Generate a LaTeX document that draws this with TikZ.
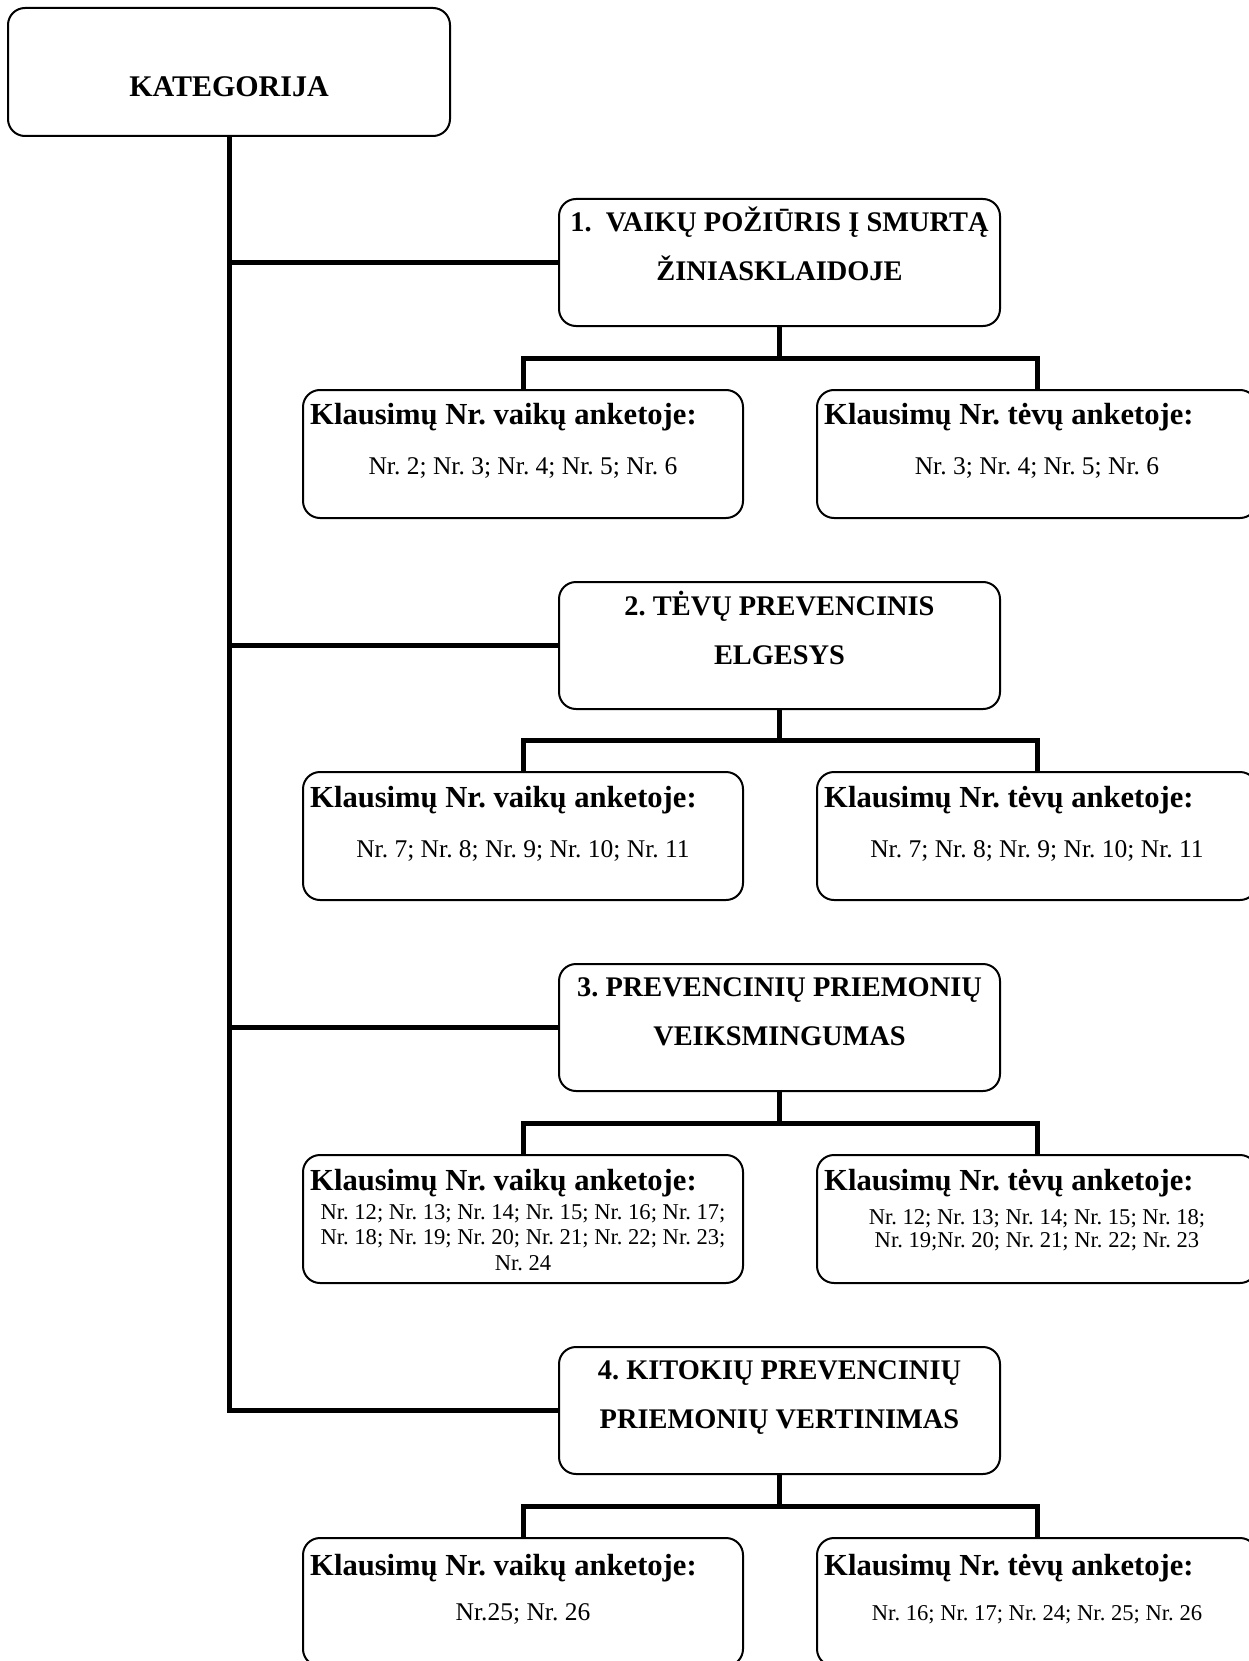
\documentclass[tikz,border=0pt]{standalone}
\usepackage{fontspec}
\setmainfont{Liberation Serif}
\usetikzlibrary{calc}
\frenchspacing
\tikzset{
  catbox/.style={draw, line width=2pt, rounded corners=17pt, minimum width=441pt, minimum height=127pt, inner sep=0pt},
  kidbox/.style={draw, line width=2pt, rounded corners=17pt, minimum width=440pt, minimum height=128pt, inner sep=0pt},
  conn/.style={line width=5pt},
  cattxt/.style={font=\bfseries\fontsize{28.4}{34}\selectfont, anchor=base, inner sep=0pt},
  hdrtxt/.style={font=\bfseries\fontsize{30.6}{36}\selectfont, anchor=base west, inner sep=0pt},
  regtxt/.style={font=\fontsize{25.5}{30}\selectfont, anchor=base, inner sep=0pt},
  smltxt/.style={font=\fontsize{22.6}{26}\selectfont, anchor=base, inner sep=0pt}
}
\begin{document}
\begin{tikzpicture}[x=1pt,y=-1pt]
\useasboundingbox (0,0) rectangle (1249,1661);
\fill[white] (0,0) rectangle (1249,1661);
\clip (0,0) rectangle (1249,1661);

% top box
\node[catbox, minimum width=442pt, minimum height=128pt] (kat) at (229,72) {};
\node[font=\bfseries\fontsize{30}{36}\selectfont, anchor=base, inner sep=0pt] (katt) at (229,97) {KATEGORIJA};

% category boxes
\node[catbox] (c1) at (779.5,262.5) {};
\node[catbox] (c2) at (779.5,645.5) {};
\node[catbox] (c3) at (779.5,1027.5) {};
\node[catbox] (c4) at (779.5,1410.5) {};

% child boxes
\node[kidbox] (l1) at (523,454) {};
\node[kidbox] (r1) at (1037,454) {};
\node[kidbox] (l2) at (523,836) {};
\node[kidbox] (r2) at (1037,836) {};
\node[kidbox] (l3) at (523,1219) {};
\node[kidbox] (r3) at (1037,1219) {};
\node[kidbox] (l4) at (523,1602) {};
\node[kidbox] (r4) at (1037,1602) {};

% trunk and branches
\draw[conn] (kat.south) |- (c4.west);
\draw[conn] (c1.west) -- (c1.west -| kat.south);
\draw[conn] (c2.west) -- (c2.west -| kat.south);
\draw[conn] (c3.west) -- (c3.west -| kat.south);

% child connectors
\foreach \i in {1,2,3,4}{
  \coordinate (m\i) at ($(c\i.south)!0.5!(l\i.north -| c\i.south)$);
  \draw[conn] (c\i.south) -- (m\i);
  \draw[conn] (l\i.north) |- (m\i) -| (r\i.north);
}

% category texts
\node[cattxt] (t1a) at (779.5,232) {1.~ VAIKŲ POŽIŪRIS Į SMURTĄ};
\node[cattxt] (t1b) at (779.5,281) {ŽINIASKLAIDOJE};
\node[cattxt] (t2a) at (779.5,615) {2. TĖVŲ PREVENCINIS};
\node[cattxt] (t2b) at (779.5,664) {ELGESYS};
\node[cattxt] (t3a) at (779.5,996) {3. PREVENCINIŲ PRIEMONIŲ};
\node[cattxt] (t3b) at (779.5,1045) {VEIKSMINGUMAS};
\node[cattxt] (t4a) at (779.5,1379) {4. KITOKIŲ PREVENCINIŲ};
\node[cattxt] (t4b) at (779.5,1428) {PRIEMONIŲ VERTINIMAS};

% row 1
\node[hdrtxt] (h1l) at (310,424) {Klausimų Nr. vaikų anketoje:};
\node[hdrtxt] (h1r) at (824,424) {Klausimų Nr. tėvų anketoje:};
\node[regtxt] (n1l) at (523,474) {Nr. 2; Nr. 3; Nr. 4; Nr. 5; Nr. 6};
\node[regtxt] (n1r) at (1037,474) {Nr. 3; Nr. 4; Nr. 5; Nr. 6};

% row 2
\node[hdrtxt] (h2l) at (310,807) {Klausimų Nr. vaikų anketoje:};
\node[hdrtxt] (h2r) at (824,807) {Klausimų Nr. tėvų anketoje:};
\node[regtxt] (n2l) at (523,857) {Nr. 7; Nr. 8; Nr. 9; Nr. 10; Nr. 11};
\node[regtxt] (n2r) at (1037,857) {Nr. 7; Nr. 8; Nr. 9; Nr. 10; Nr. 11};

% row 3
\node[hdrtxt] (h3l) at (310,1190) {Klausimų Nr. vaikų anketoje:};
\node[hdrtxt] (h3r) at (824,1190) {Klausimų Nr. tėvų anketoje:};
\node[smltxt] (n3la) at (523,1219) {Nr. 12; Nr. 13; Nr. 14; Nr. 15; Nr. 16; Nr. 17;};
\node[smltxt] (n3lb) at (523,1244.5) {Nr. 18; Nr. 19; Nr. 20; Nr. 21; Nr. 22; Nr. 23;};
\node[smltxt] (n3lc) at (523,1270) {Nr. 24};
\node[smltxt] (n3ra) at (1037,1224) {Nr. 12; Nr. 13; Nr. 14; Nr. 15; Nr. 18;};
\node[smltxt] (n3rb) at (1037,1247) {Nr. 19;Nr. 20; Nr. 21; Nr. 22; Nr. 23};

% row 4
\node[hdrtxt] (h4l) at (310,1575) {Klausimų Nr. vaikų anketoje:};
\node[hdrtxt] (h4r) at (824,1575) {Klausimų Nr. tėvų anketoje:};
\node[regtxt] (n4l) at (523,1620) {Nr.25; Nr. 26};
\node[smltxt] (n4r) at (1037,1620) {Nr. 16; Nr. 17; Nr. 24; Nr. 25; Nr. 26};
\end{tikzpicture}
\end{document}
